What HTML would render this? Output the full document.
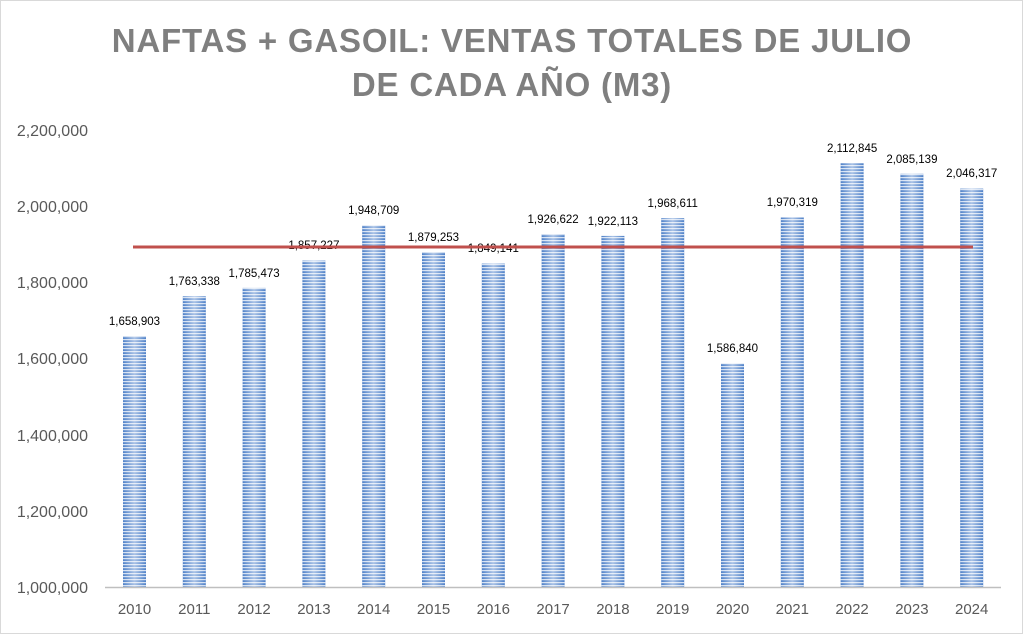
<!DOCTYPE html>
<html><head><meta charset="utf-8"><style>
html,body{margin:0;padding:0;background:#fff}
svg{display:block}
text{font-family:"Liberation Sans",sans-serif}
.b{fill:url(#g)}
.s{fill:url(#s)}
</style></head><body>
<svg width="1024" height="635" viewBox="0 0 1024 635" xmlns="http://www.w3.org/2000/svg">
<defs>
<linearGradient id="g" x1="0" x2="1" y1="0" y2="0">
<stop offset="0" stop-color="#4f81c8"/><stop offset="0.5" stop-color="#a9c2e6"/><stop offset="1" stop-color="#4f81c8"/>
</linearGradient>
<pattern id="s" width="4" height="3" patternUnits="userSpaceOnUse">
<rect width="4" height="1.2" fill="#fff" opacity="0.75"/>
</pattern>
</defs>
<rect x="0.5" y="0.5" width="1022" height="633" fill="#fff" stroke="#d9d9d9" stroke-width="1"/>
<text x="512" y="52" text-anchor="middle" font-size="33" font-weight="bold" fill="#7f7f7f" letter-spacing="0.8">NAFTAS + GASOIL: VENTAS TOTALES DE JULIO</text>
<text x="512" y="96" text-anchor="middle" font-size="33" font-weight="bold" fill="#7f7f7f" letter-spacing="0.8">DE CADA AÑO (M3)</text>
<g font-size="16" fill="#595959" text-anchor="end">
<text x="88" y="593">1,000,000</text>
<text x="88" y="517">1,200,000</text>
<text x="88" y="441">1,400,000</text>
<text x="88" y="364">1,600,000</text>
<text x="88" y="288">1,800,000</text>
<text x="88" y="212">2,000,000</text>
<text x="88" y="136">2,200,000</text>
</g>
<g>
<rect class="b" x="123" y="336.1" width="23" height="250.9"/><rect class="s" x="123" y="336.1" width="23" height="250.9"/>
<rect class="b" x="182.8" y="296.3" width="23" height="290.7"/><rect class="s" x="182.8" y="296.3" width="23" height="290.7"/>
<rect class="b" x="242.6" y="287.9" width="23" height="299.1"/><rect class="s" x="242.6" y="287.9" width="23" height="299.1"/>
<rect class="b" x="302.4" y="260.6" width="23" height="326.4"/><rect class="s" x="302.4" y="260.6" width="23" height="326.4"/>
<rect class="b" x="362.2" y="225.7" width="23" height="361.3"/><rect class="s" x="362.2" y="225.7" width="23" height="361.3"/>
<rect class="b" x="422" y="252.2" width="23" height="334.8"/><rect class="s" x="422" y="252.2" width="23" height="334.8"/>
<rect class="b" x="481.8" y="263.6" width="23" height="323.4"/><rect class="s" x="481.8" y="263.6" width="23" height="323.4"/>
<rect class="b" x="541.6" y="234.1" width="23" height="352.9"/><rect class="s" x="541.6" y="234.1" width="23" height="352.9"/>
<rect class="b" x="601.4" y="235.9" width="23" height="351.1"/><rect class="s" x="601.4" y="235.9" width="23" height="351.1"/>
<rect class="b" x="661.2" y="218.2" width="23" height="368.8"/><rect class="s" x="661.2" y="218.2" width="23" height="368.8"/>
<rect class="b" x="721" y="363.5" width="23" height="223.5"/><rect class="s" x="721" y="363.5" width="23" height="223.5"/>
<rect class="b" x="780.8" y="217.5" width="23" height="369.5"/><rect class="s" x="780.8" y="217.5" width="23" height="369.5"/>
<rect class="b" x="840.6" y="163.2" width="23" height="423.8"/><rect class="s" x="840.6" y="163.2" width="23" height="423.8"/>
<rect class="b" x="900.4" y="173.8" width="23" height="413.2"/><rect class="s" x="900.4" y="173.8" width="23" height="413.2"/>
<rect class="b" x="960.2" y="188.6" width="23" height="398.4"/><rect class="s" x="960.2" y="188.6" width="23" height="398.4"/>
</g>
<g font-size="11.5" fill="#000" text-anchor="middle">
<text x="134.5" y="325">1,658,903</text>
<text x="194.3" y="285">1,763,338</text>
<text x="254.1" y="277">1,785,473</text>
<text x="313.9" y="249">1,857,227</text>
<text x="373.7" y="214">1,948,709</text>
<text x="433.5" y="241">1,879,253</text>
<text x="493.3" y="252">1,849,141</text>
<text x="553.1" y="223">1,926,622</text>
<text x="612.9" y="225">1,922,113</text>
<text x="672.7" y="207">1,968,611</text>
<text x="732.5" y="352">1,586,840</text>
<text x="792.3" y="206">1,970,319</text>
<text x="852.1" y="152">2,112,845</text>
<text x="911.9" y="163">2,085,139</text>
<text x="971.7" y="177">2,046,317</text>
</g>
<g font-size="15" fill="#595959" text-anchor="middle">
<text x="134.5" y="614">2010</text><text x="194.3" y="614">2011</text><text x="254.1" y="614">2012</text>
<text x="313.9" y="614">2013</text><text x="373.7" y="614">2014</text><text x="433.5" y="614">2015</text>
<text x="493.3" y="614">2016</text><text x="553.1" y="614">2017</text><text x="612.9" y="614">2018</text>
<text x="672.7" y="614">2019</text><text x="732.5" y="614">2020</text><text x="792.3" y="614">2021</text>
<text x="852.1" y="614">2022</text><text x="911.9" y="614">2023</text><text x="971.7" y="614">2024</text>
</g>
<line x1="105" y1="587.5" x2="1001" y2="587.5" stroke="#bfbfbf" stroke-width="1.5"/>
<line x1="133" y1="247" x2="973" y2="247" stroke="#c0504d" stroke-width="3"/>
</svg>
</body></html>
